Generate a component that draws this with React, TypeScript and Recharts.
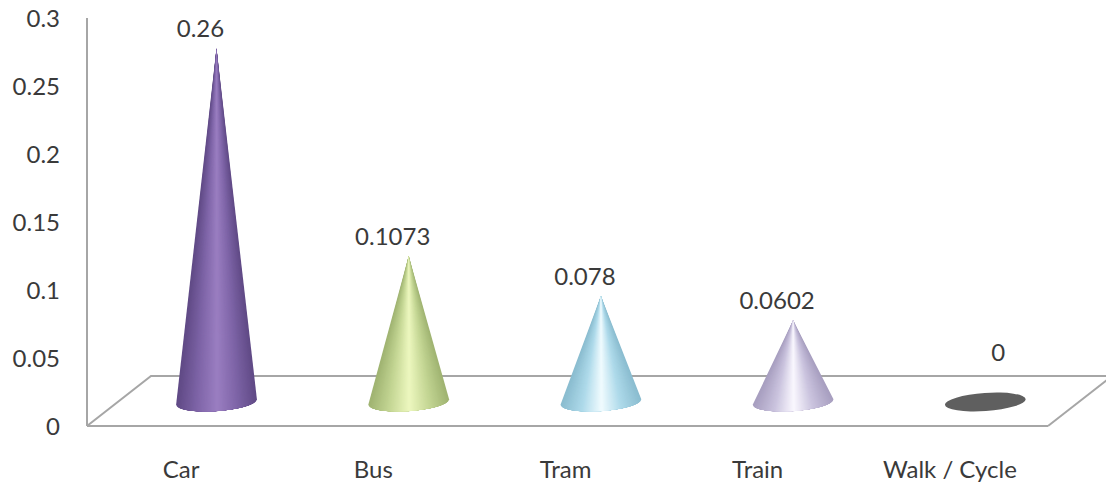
import { BarChart, Bar, XAxis, YAxis, LabelList, usePlotArea } from "recharts";

const categories = ["Car", "Bus", "Tram", "Train", "Walk / Cycle"];
const values = [0.26, 0.1073, 0.078, 0.0602, 0];
const valueLabels = ["0.26", "0.1073", "0.078", "0.0602", "0"];
const yTicks = [0, 0.05, 0.1, 0.15, 0.2, 0.25, 0.3];
// surface shades per cone, from the rim of the silhouette to the highlight
const edgeColors = ["#604a86", "#a0b472", "#8bbdd0", "#a89fc0", "#5f5f5f"];
const shadeColors = ["#7f65a8", "#c5d795", "#aedaea", "#cac3de", "#5f5f5f"];
const midColors = ["#9b7fc2", "#eef8c0", "#f2fcff", "#fbf9ff", "#5f5f5f"];

const data = categories.map((name, i) => ({ name, value: values[i] }));

const AXIS_COLOR = "#a6a6a6";
const TEXT_COLOR = "#3a3a3a";
const FONT = "Lato, sans-serif";

// the floor is drawn in oblique projection, marks stand in the middle of it
const DEPTH_X = 64;
const DEPTH_Y = 50;
const MARK_DX = 33;
const MARK_DY = -24;
const BASE_RX = 40.5;
const BASE_RY = 9;
const BASE_TILT = -4;
const SHADE_STEPS = 32;

const hexToRgb = (hex: string) => [1, 3, 5].map((p) => parseInt(hex.slice(p, p + 2), 16));

const mix = (a: string, b: string, t: number) => {
  const ca = hexToRgb(a);
  const cb = hexToRgb(b);
  const c = ca.map((v, i) => Math.round(v + (cb[i] - v) * t));
  return `rgb(${c[0]},${c[1]},${c[2]})`;
};

// u is 0 on the highlight and 1 on the silhouette
const shadeAt = (index: number, u: number) =>
  u < 0.5
    ? mix(midColors[index], shadeColors[index], u / 0.5)
    : mix(shadeColors[index], edgeColors[index], (u - 0.5) / 0.5);

const Floor = () => {
  const plot = usePlotArea();
  if (!plot) return null;
  const left = plot.x;
  const right = plot.x + plot.width;
  const front = plot.y + plot.height;
  const back = front - DEPTH_Y;
  return (
    <g fill="none" stroke={AXIS_COLOR} strokeWidth={2}>
      <path d={`M${left} ${front} L${left + DEPTH_X} ${back} L${right + DEPTH_X} ${back}`} />
      <path d={`M${right} ${front} L${right + DEPTH_X} ${back}`} />
    </g>
  );
};

const Cone = ({ x, y, width, height, index }: any) => {
  const cx = x + width / 2 + MARK_DX;
  const baseY = y + height + MARK_DY;
  const tipY = y + MARK_DY;
  const rad = (BASE_TILT * Math.PI) / 180;

  if (height <= 0) {
    return (
      <ellipse
        cx={cx}
        cy={baseY}
        rx={BASE_RX}
        ry={BASE_RY}
        fill={midColors[index]}
        transform={`rotate(${BASE_TILT} ${cx} ${baseY})`}
      />
    );
  }

  // point on the front half of the tilted base rim
  const rim = (a: number) => {
    const px = BASE_RX * Math.cos(a);
    const py = BASE_RY * Math.sin(a);
    return [cx + px * Math.cos(rad) - py * Math.sin(rad), baseY + px * Math.sin(rad) + py * Math.cos(rad)];
  };

  // nested wedges, widest first, so neighbouring shades leave no seams
  const wedges = [];
  for (let i = SHADE_STEPS; i > 0; i--) {
    const u = i / SHADE_STEPS;
    const a = Math.acos(u);
    const [lx, ly] = rim(Math.PI - a);
    const [rx, ry] = rim(a);
    wedges.push(
      <path
        key={i}
        d={`M${cx} ${tipY} L${lx} ${ly} A${BASE_RX} ${BASE_RY} ${BASE_TILT} 0 0 ${rx} ${ry} Z`}
        fill={shadeAt(index, u)}
      />
    );
  }
  return <g>{wedges}</g>;
};

const ValueLabel = ({ x, y, width, index }: any) => {
  const isZero = values[index] === 0;
  const cx = x + width / 2 + MARK_DX + (isZero ? 13 : -16);
  const ty = y + MARK_DY + (isZero ? -41 : -11);
  return (
    <text x={cx} y={ty} textAnchor="middle" fontFamily={FONT} fontSize={24} fill={TEXT_COLOR}>
      {valueLabels[index]}
    </text>
  );
};

export default function App() {
  return (
    <div style={{ position: "absolute", left: 0, top: 0, background: "#fff" }}>
      <BarChart
        width={1106}
        height={485}
        data={data}
        margin={{ top: 18, right: 58, bottom: 29, left: 0 }}
      >
        <Floor />
        <XAxis
          dataKey="name"
          axisLine={{ stroke: AXIS_COLOR, strokeWidth: 2 }}
          tickLine={false}
          tickMargin={29}
          interval={0}
          tick={{ fontFamily: FONT, fontSize: 24, fill: TEXT_COLOR, dx: -2 }}
        />
        <YAxis
          width={87}
          domain={[0, 0.3]}
          ticks={yTicks}
          axisLine={{ stroke: AXIS_COLOR, strokeWidth: 2 }}
          tickLine={false}
          tickMargin={21}
          tick={{ fontFamily: FONT, fontSize: 24, fill: TEXT_COLOR }}
        />
        <Bar dataKey="value" barSize={81} shape={<Cone />} isAnimationActive={false}>
          <LabelList dataKey="value" content={<ValueLabel />} />
        </Bar>
      </BarChart>
    </div>
  );
}
